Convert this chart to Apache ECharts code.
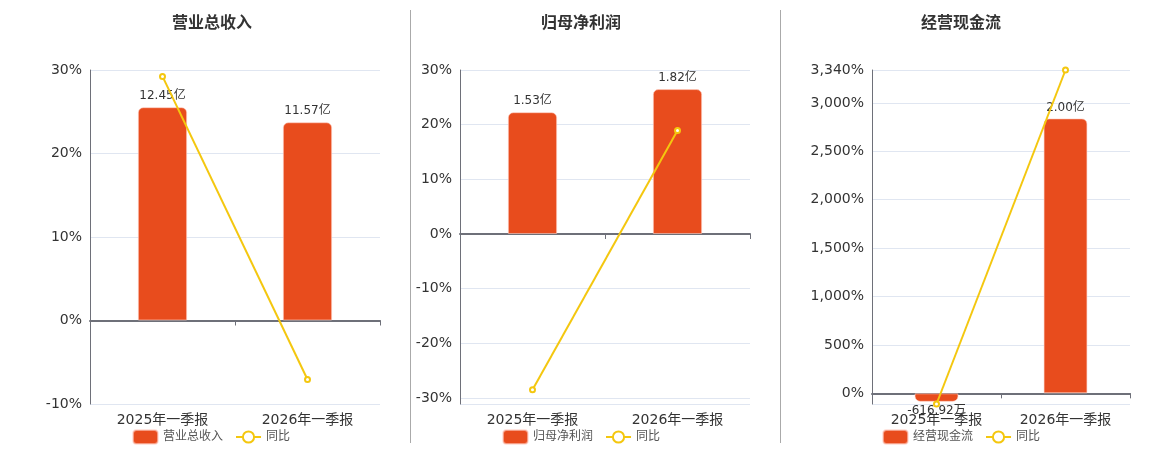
<!DOCTYPE html>
<html>
<head>
<meta charset="utf-8">
<script src="https://cdn.jsdelivr.net/npm/echarts@6/dist/echarts.min.js"></script>
<style>
  html, body { margin: 0; padding: 0; background: #fff; }
  #chart { width: 1160px; height: 450px; }
</style>
</head>
<body>
<div id="chart"></div>
<script>
var categories = ['2025年一季报', '2026年一季报'];
var titles = ['营业总收入', '归母净利润', '经营现金流'];

// bar values in 亿
var revenue = [12.45, 11.57];
var netProfit = [1.53, 1.82];
var cashFlow = [-0.061692, 2.00];

// 同比, %
var revenueYoy = [29.23, -7.07];
var profitYoy = [-28.5, 18.95];
var cashYoy = [-110, 3340];

var barColor = '#e84c1d';
var lineColor = '#f4c70f';
var font = 'DejaVu Sans, "Noto Sans CJK SC", sans-serif';

var myChart = echarts.init(document.getElementById('chart'));

// panel layout
var panels = [
    {name: titles[0], bars: revenue, yoy: revenueYoy, left: 90, width: 290, titleLeft: 167, legendLeft: 127,
     pMin: -10, pMax: 30, bMin: -4.873, bMax: 14.62, hideMin: false},
    {name: titles[1], bars: netProfit, yoy: profitYoy, left: 460, width: 290, titleLeft: 536, legendLeft: 497,
     pMin: -31.1, pMax: 30, bMin: -2.136, bMax: 2.06, hideMin: true},
    {name: titles[2], bars: cashFlow, yoy: cashYoy, left: 872, width: 258, titleLeft: 916, legendLeft: 877,
     pMin: -110, pMax: 3340, bMin: -0.0775, bMax: 2.352, hideMin: true}
];

function fmtMoney(v) {
    if (Math.abs(v) < 1) return (v * 10000).toFixed(2) + '万';
    return v.toFixed(2) + '亿';
}

var title = [], legend = [], grid = [], xAxis = [], yAxis = [], series = [];

panels.forEach(function (p, i) {
    title.push({
        text: p.name,
        left: p.titleLeft,
        top: 11,
        textStyle: {color: '#333', fontSize: 16, fontWeight: 'bold', fontFamily: font}
    });
    legend.push({
        left: p.legendLeft,
        top: 424,
        itemWidth: 25,
        itemHeight: 14,
        itemGap: 12,
        data: [{name: p.name, icon: 'roundRect'}, {name: '同比'}],
        textStyle: {color: '#555', fontSize: 12, fontFamily: font}
    });
    grid.push({left: p.left, width: p.width, top: 70, height: 334});

    // axis line drawn at zero
    xAxis.push({
        type: 'category',
        gridIndex: i,
        data: categories,
        position: 'bottom',
        axisLine: {onZero: true, onZeroAxisIndex: i * 2, lineStyle: {color: '#6E7079', width: 2}},
        axisTick: {show: true, length: 5, lineStyle: {color: '#6E7079'}},
        axisLabel: {show: false},
        splitLine: {show: false}
    });
    // labels at the bottom
    xAxis.push({
        type: 'category',
        gridIndex: i,
        data: categories,
        position: 'bottom',
        axisLine: {show: false, onZero: false},
        axisTick: {show: false},
        axisLabel: {color: '#333', fontSize: 14, margin: 9, fontFamily: font},
        splitLine: {show: false}
    });

    yAxis.push({
        type: 'value',
        gridIndex: i,
        min: p.pMin,
        max: p.pMax,
        splitNumber: 5,
        showMinLabel: !p.hideMin,
        showMaxLabel: true,
        axisLine: {show: true, lineStyle: {color: '#6E7079'}},
        axisTick: {show: false},
        axisLabel: {
            color: '#333', fontSize: 14, fontFamily: font,
            formatter: function (v) { return v.toLocaleString('en-US') + '%'; }
        },
        splitLine: {lineStyle: {color: '#E0E6F1'}}
    });
    yAxis.push({
        type: 'value',
        gridIndex: i,
        min: p.bMin,
        max: p.bMax,
        show: false,
        splitLine: {show: false}
    });

    series.push({
        name: p.name,
        type: 'bar',
        xAxisIndex: i * 2,
        yAxisIndex: i * 2 + 1,
        barWidth: '34%',
        itemStyle: {
            color: barColor,
            borderColor: 'rgba(255,210,200,0.6)',
            borderWidth: 1,
            borderRadius: [5, 5, 0, 0]
        },
        label: {
            show: true,
            color: '#333',
            fontSize: 12,
            fontFamily: font,
            formatter: function (params) { return fmtMoney(params.value); }
        },
        data: p.bars.map(function (v) {
            return v < 0
                ? {value: v, label: {position: 'bottom', distance: 3}, itemStyle: {borderRadius: [0, 0, 5, 5]}}
                : {value: v, label: {position: 'top'}};
        }),
        z: 2
    });
    series.push({
        name: '同比',
        type: 'line',
        xAxisIndex: i * 2,
        yAxisIndex: i * 2,
        symbol: 'emptyCircle',
        symbolSize: 5,
        itemStyle: {color: lineColor, borderWidth: 2},
        lineStyle: {color: lineColor, width: 2},
        data: p.yoy,
        z: 5
    });
});

var option = {
    animation: false,
    backgroundColor: '#fff',
    textStyle: {fontFamily: font},
    title: title,
    legend: legend,
    grid: grid,
    xAxis: xAxis,
    yAxis: yAxis,
    series: series,
    graphic: [
        {type: 'line', shape: {x1: 410.5, y1: 10, x2: 410.5, y2: 443}, style: {stroke: '#aaa', lineWidth: 1}},
        {type: 'line', shape: {x1: 780.5, y1: 10, x2: 780.5, y2: 443}, style: {stroke: '#aaa', lineWidth: 1}}
    ]
};

myChart.setOption(option);
</script>
</body>
</html>
